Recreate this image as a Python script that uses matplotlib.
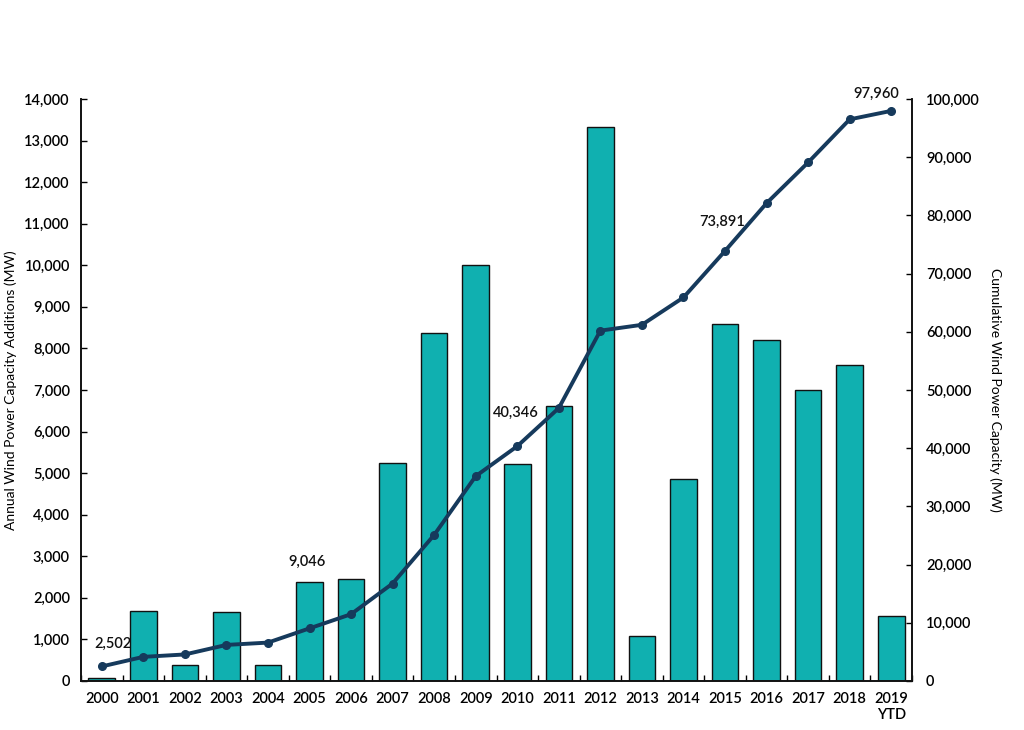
import matplotlib
matplotlib.use("Agg")
import matplotlib.pyplot as plt
import numpy as np

years = ["2000", "2001", "2002", "2003", "2004", "2005", "2006", "2007", "2008", "2009",
         "2010", "2011", "2012", "2013", "2014", "2015", "2016", "2017", "2018", "2019\nYTD"]
annual = [75, 1690, 390, 1650, 390, 2375, 2455, 5250, 8380, 10000,
          5210, 6605, 13330, 1075, 4860, 8595, 8200, 7010, 7590, 1565]
cumulative = [2502, 4150, 4560, 6200, 6600, 9046, 11480, 16750, 25100, 35200,
              40346, 46900, 60200, 61200, 65900, 73891, 82100, 89100, 96500, 97960]
label_idx = [0, 5, 10, 15, 19]

bar_color = "#10B0B0"
line_color = "#163A5C"

plt.rcParams['font.family'] = ['Lato', 'DejaVu Sans']

fig = plt.figure(figsize=(10.24, 7.3), dpi=100)
ax = fig.add_axes([81/1024, 49/730, (912-81)/1024, (681-99)/730])
ax2 = ax.twinx()

x = np.arange(len(years))
ax.bar(x, annual, width=0.64, color=bar_color, edgecolor="#111111", linewidth=1.0, zorder=2)
ax.set_xlim(-0.5, len(years) - 0.5)
ax.set_ylim(0, 14000)
ax.set_yticks(np.arange(0, 14001, 1000))
ax.set_yticklabels([f"{v:,}" for v in range(0, 14001, 1000)], fontsize=10.5, fontweight='semibold')
ax.set_xticks(x)
ax.set_xticklabels(years, fontsize=10.5, fontweight='semibold')
ax.set_xticks(np.arange(-0.5, len(years), 1), minor=True)
ax.tick_params(axis='x', which='major', length=0, pad=8)
ax.tick_params(axis='x', which='minor', direction='in', length=4, width=1)
ax.tick_params(axis='y', direction='in', length=4, width=1, pad=8)
ax.set_ylabel("Annual Wind Power Capacity Additions (MW)", fontsize=10, labelpad=5)

ax2.plot(x, cumulative, color=line_color, linewidth=2.8, marker='o', markersize=5.5, zorder=3)
ax2.set_ylim(0, 100000)
ax2.set_yticks(np.arange(0, 100001, 10000))
ax2.set_yticklabels([f"{v:,}" for v in range(0, 100001, 10000)], fontsize=10.5, fontweight='semibold')
ax2.tick_params(axis='y', direction='in', length=4, width=1, pad=10)
ax2.set_ylabel("Cumulative Wind Power Capacity (MW)", fontsize=10, rotation=270, labelpad=16)

offsets = {0: (11, 23), 5: (-3, 66), 10: (-1, 33), 15: (-3, 29), 19: (-15, 17)}
for i in label_idx:
    dx, dy = offsets[i]
    ax2.annotate(f"{cumulative[i]:,}", (x[i], cumulative[i]), xytext=(dx, dy),
                 textcoords='offset pixels', ha='center', va='center',
                 fontsize=10.5, fontweight='semibold', color="#111111")

for a in (ax, ax2):
    a.spines['top'].set_visible(False)
    for s in ('left', 'right', 'bottom'):
        a.spines[s].set_linewidth(1.2)
        a.spines[s].set_color("#111111")

fig.savefig("out.png", dpi=100)
